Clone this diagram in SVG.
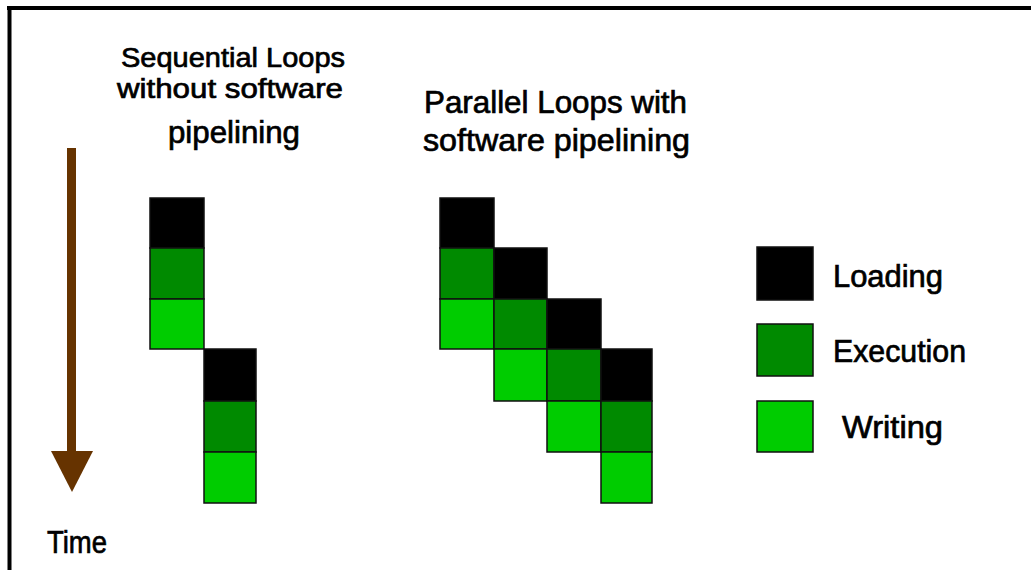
<svg xmlns="http://www.w3.org/2000/svg" width="1031" height="570" viewBox="0 0 1031 570">
<style>
.t{font-family:"Liberation Sans",Arial,sans-serif;font-size:31px;fill:#000;stroke:#000;stroke-width:0.7;}
.s{font-size:27.5px;}
.ld{fill:#000;stroke:#111;stroke-width:1.5;}
.ex{fill:#008a00;stroke:#111;stroke-width:1.5;}
.wr{fill:#00cc00;stroke:#111;stroke-width:1.5;}
</style>
<rect width="1031" height="570" fill="#fff"/>
<g id="frame">
<line x1="7" y1="8" x2="1031" y2="8" stroke="#000" stroke-width="4"/>
<line x1="9.5" y1="6" x2="9.5" y2="570" stroke="#000" stroke-width="4"/>
</g>
<g id="connectors">
<rect x="67" y="148" width="9" height="305" fill="#663300"/>
<polygon points="51,451 93,451 72,492" fill="#663300"/>
</g>
<g id="time-label">
<text class="t" x="47" y="553" font-size="27" textLength="60" lengthAdjust="spacingAndGlyphs">Time</text>
</g>
<g id="title-sequential">
<text class="t s" x="121" y="67" textLength="224" lengthAdjust="spacingAndGlyphs">Sequential Loops</text>
<text class="t s" x="117" y="98" textLength="226" lengthAdjust="spacingAndGlyphs">without software</text>
<text class="t" x="168" y="143" textLength="132" lengthAdjust="spacingAndGlyphs">pipelining</text>
</g>
<g id="title-parallel">
<text class="t" x="424" y="113" textLength="263" lengthAdjust="spacingAndGlyphs">Parallel Loops with</text>
<text class="t" x="423" y="151" textLength="267" lengthAdjust="spacingAndGlyphs">software pipelining</text>
</g>
<g id="sequential-loop-1">
<rect class="ld" x="150" y="198" width="54" height="50"/>
<rect class="ex" x="150" y="248" width="54" height="51"/>
<rect class="wr" x="150" y="299" width="54" height="50"/>
</g>
<g id="sequential-loop-2">
<rect class="ld" x="204" y="349" width="52" height="52"/>
<rect class="ex" x="204" y="401" width="52" height="51"/>
<rect class="wr" x="204" y="452" width="52" height="51"/>
</g>
<g id="parallel-loop-1">
<rect class="ld" x="440" y="198" width="54" height="50"/>
<rect class="ex" x="440" y="248" width="54" height="51"/>
<rect class="wr" x="440" y="299" width="54" height="50"/>
</g>
<g id="parallel-loop-2">
<rect class="ld" x="494" y="248" width="53" height="51"/>
<rect class="ex" x="494" y="299" width="53" height="50"/>
<rect class="wr" x="494" y="349" width="53" height="52"/>
</g>
<g id="parallel-loop-3">
<rect class="ld" x="547" y="299" width="54" height="50"/>
<rect class="ex" x="547" y="349" width="54" height="52"/>
<rect class="wr" x="547" y="401" width="54" height="51"/>
</g>
<g id="parallel-loop-4">
<rect class="ld" x="601" y="349" width="51" height="52"/>
<rect class="ex" x="601" y="401" width="51" height="51"/>
<rect class="wr" x="601" y="452" width="51" height="51"/>
</g>
<g id="legend-loading">
<rect class="ld" x="757" y="247" width="56" height="53"/>
<text class="t" x="833" y="287" textLength="110" lengthAdjust="spacingAndGlyphs">Loading</text>
</g>
<g id="legend-execution">
<rect class="ex" x="757" y="324" width="56" height="52"/>
<text class="t" x="833" y="362" textLength="133" lengthAdjust="spacingAndGlyphs">Execution</text>
</g>
<g id="legend-writing">
<rect class="wr" x="757" y="401" width="56" height="51"/>
<text class="t" x="842" y="438" textLength="101" lengthAdjust="spacingAndGlyphs">Writing</text>
</g>
</svg>
